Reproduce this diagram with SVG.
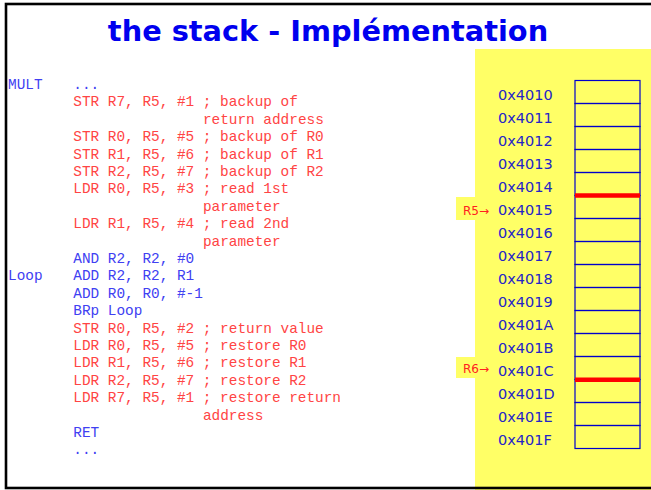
<svg xmlns="http://www.w3.org/2000/svg" width="651" height="490" viewBox="0 0 651 490">
<style>
.title{font-family:"DejaVu Sans",Verdana,sans-serif;font-weight:bold;font-size:28.8px;fill:#0000EE}
.code{font-family:"Liberation Mono","Courier New",monospace;font-size:14.4px}
.r{fill:#FF4444}
.b{fill:#4040F2}
.addr{font-family:"DejaVu Sans",Verdana,sans-serif;font-size:14.5px;fill:#2424C8}
.ptr{font-family:"DejaVu Sans",Verdana,sans-serif;font-size:12px;fill:#FF2020}
.cell{fill:none;stroke:#0000CC;stroke-width:1.2}
.hl{fill:#FFFF66}
.mark{stroke:#FF0000;stroke-width:4.5}
</style>
<rect x="0" y="0" width="651" height="490" fill="#FFFFFF"/>
<rect class="hl" x="475" y="49" width="176" height="441"/>
<rect class="hl" x="456" y="197" width="20" height="23"/>
<rect class="hl" x="456" y="357" width="20" height="21"/>
<rect x="6" y="4" width="700" height="484" fill="none" stroke="#000" stroke-width="2.6"/>
<text class="title" x="328" y="41" text-anchor="middle">the stack - Implémentation</text>
<g id="code" class="code">
<text class="b" x="8" y="89">MULT</text>
<text class="b" x="73.3" y="89">...</text>
<text class="r" x="73.3" y="106.4">STR R7, R5, #1 ; backup of</text>
<text class="r" x="202.9" y="123.8">return address</text>
<text class="r" x="73.3" y="141.2">STR R0, R5, #5 ; backup of R0</text>
<text class="r" x="73.3" y="158.6">STR R1, R5, #6 ; backup of R1</text>
<text class="r" x="73.3" y="176">STR R2, R5, #7 ; backup of R2</text>
<text class="r" x="73.3" y="193.4">LDR R0, R5, #3 ; read 1st</text>
<text class="r" x="202.9" y="210.8">parameter</text>
<text class="r" x="73.3" y="228.2">LDR R1, R5, #4 ; read 2nd</text>
<text class="r" x="202.9" y="245.6">parameter</text>
<text class="b" x="73.3" y="263">AND R2, R2, #0</text>
<text class="b" x="8" y="280.4">Loop</text>
<text class="b" x="73.3" y="280.4">ADD R2, R2, R1</text>
<text class="b" x="73.3" y="297.8">ADD R0, R0, #-1</text>
<text class="b" x="73.3" y="315.2">BRp Loop</text>
<text class="r" x="73.3" y="332.6">STR R0, R5, #2 ; return value</text>
<text class="r" x="73.3" y="350">LDR R0, R5, #5 ; restore R0</text>
<text class="r" x="73.3" y="367.4">LDR R1, R5, #6 ; restore R1</text>
<text class="r" x="73.3" y="384.8">LDR R2, R5, #7 ; restore R2</text>
<text class="r" x="73.3" y="402.2">LDR R7, R5, #1 ; restore return</text>
<text class="r" x="202.9" y="419.6">address</text>
<text class="b" x="73.3" y="437">RET</text>
<text class="b" x="73.3" y="454.4">...</text>
</g>
<g id="memory">
<g id="m4010"><rect class="cell" x="575" y="80.5" width="65" height="23"/><text class="addr" x="498" y="100">0x4010</text></g>
<g id="m4011"><rect class="cell" x="575" y="103.5" width="65" height="23"/><text class="addr" x="498" y="123">0x4011</text></g>
<g id="m4012"><rect class="cell" x="575" y="126.5" width="65" height="23"/><text class="addr" x="498" y="146">0x4012</text></g>
<g id="m4013"><rect class="cell" x="575" y="149.5" width="65" height="23"/><text class="addr" x="498" y="169">0x4013</text></g>
<g id="m4014"><rect class="cell" x="575" y="172.5" width="65" height="23"/><text class="addr" x="498" y="192">0x4014</text></g>
<g id="m4015"><rect class="cell" x="575" y="195.5" width="65" height="23"/><text class="addr" x="498" y="215">0x4015</text></g>
<g id="m4016"><rect class="cell" x="575" y="218.5" width="65" height="23"/><text class="addr" x="498" y="238">0x4016</text></g>
<g id="m4017"><rect class="cell" x="575" y="241.5" width="65" height="23"/><text class="addr" x="498" y="261">0x4017</text></g>
<g id="m4018"><rect class="cell" x="575" y="264.5" width="65" height="23"/><text class="addr" x="498" y="284">0x4018</text></g>
<g id="m4019"><rect class="cell" x="575" y="287.5" width="65" height="23"/><text class="addr" x="498" y="307">0x4019</text></g>
<g id="m401A"><rect class="cell" x="575" y="310.5" width="65" height="23"/><text class="addr" x="498" y="330">0x401A</text></g>
<g id="m401B"><rect class="cell" x="575" y="333.5" width="65" height="23"/><text class="addr" x="498" y="353">0x401B</text></g>
<g id="m401C"><rect class="cell" x="575" y="356.5" width="65" height="23"/><text class="addr" x="498" y="376">0x401C</text></g>
<g id="m401D"><rect class="cell" x="575" y="379.5" width="65" height="23"/><text class="addr" x="498" y="399">0x401D</text></g>
<g id="m401E"><rect class="cell" x="575" y="402.5" width="65" height="23"/><text class="addr" x="498" y="422">0x401E</text></g>
<g id="m401F"><rect class="cell" x="575" y="425.5" width="65" height="23"/><text class="addr" x="498" y="445">0x401F</text></g>
</g>
<g id="connectors">
<line class="mark" x1="575" y1="195.5" x2="640" y2="195.5"/>
<line class="mark" x1="575" y1="379.8" x2="640" y2="379.8"/>
</g>
<g id="r5"><text class="ptr" x="463" y="215">R5→</text></g>
<g id="r6"><text class="ptr" x="463" y="373">R6→</text></g>
</svg>
